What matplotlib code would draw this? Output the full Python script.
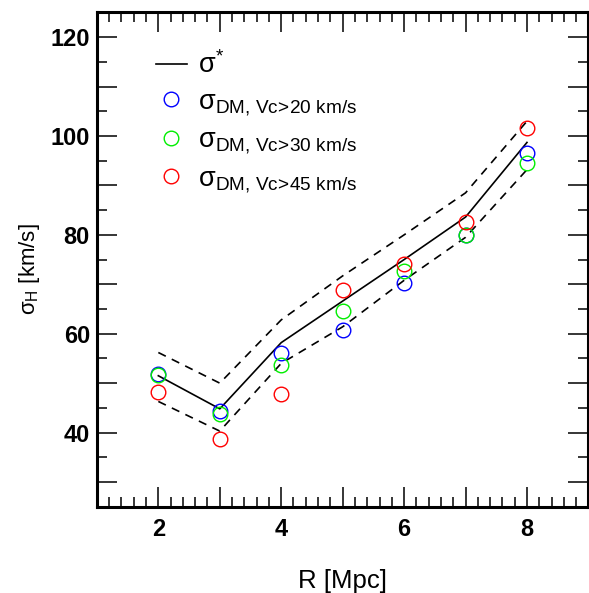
import numpy as np
import matplotlib
matplotlib.use("Agg")
import matplotlib.pyplot as plt
from matplotlib.ticker import MultipleLocator

plt.rcParams['font.family'] = ['Liberation Sans', 'DejaVu Sans']
plt.rcParams['mathtext.fontset'] = 'custom'
plt.rcParams['mathtext.rm'] = 'Liberation Sans'
plt.rcParams['mathtext.it'] = 'Liberation Sans'

# datos
R = [2, 3, 4, 5, 6, 7, 8]
sig_star = [51.5, 44.8, 58.2, 66.6, 75.0, 83.6, 98.7]
sig_up = [56.2, 50.0, 62.8, 71.7, 80.0, 88.5, 103.0]
sig_lo = [46.3, 40.3, 54.0, 61.4, 70.8, 79.5, 93.2]

dm20 = [51.9, 44.3, 56.0, 60.7, 70.2, 80.0, 96.5]
dm30 = [51.7, 43.8, 53.6, 64.6, 72.6, 79.9, 94.6]
dm45 = [48.2, 38.7, 47.9, 68.8, 74.1, 82.6, 101.7]

vc_cuts = [20, 30, 45]


def dm_label(v):
    return r'$\mathregular{\sigma_{DM{,}\ Vc\!>\!%d\ km/s}}$' % v


fig = plt.figure(figsize=(5.89, 5.93), dpi=100)
ax = fig.add_axes([0.1645, 0.1455, 0.8345, 0.8335])

ax.plot(R, sig_star, color='black', lw=1.2, label=r'$\mathregular{\sigma^{*}}$')
ax.plot(R, sig_up, color='black', lw=1.2, ls=(0, (5, 4)))
ax.plot(R, sig_lo, color='black', lw=1.2, ls=(0, (5, 4)))

mk = dict(ls='none', marker='o', ms=10.5, mfc='none', mew=1.0)
ax.plot(R, dm20, mec='blue', label=dm_label(vc_cuts[0]), **mk)
ax.plot(R, dm30, mec='#00ee00', label=dm_label(vc_cuts[1]), **mk)
ax.plot(R, dm45, mec='red', label=dm_label(vc_cuts[2]), **mk)

ax.set_xlim(1, 9)
ax.set_ylim(25, 125)
ax.xaxis.set_minor_locator(MultipleLocator(0.2))
ax.yaxis.set_minor_locator(MultipleLocator(5))
ax.set_xticks([1, 2, 3, 4, 5, 6, 7, 8, 9])
ax.set_xticklabels(['', '2', '', '4', '', '6', '', '8', ''])
ax.set_yticks(np.arange(30, 121, 10))
ax.set_yticklabels(['', '40', '', '60', '', '80', '', '100', '', '120'])

ax.tick_params(which='both', direction='in', top=True, right=True, width=1.1)
ax.tick_params(which='major', length=14.5, labelsize=17, pad=8)
ax.tick_params(which='minor', length=7)
ax.tick_params(axis='y', which='major', pad=5)
for lab in ax.get_xticklabels() + ax.get_yticklabels():
    lab.set_fontweight('bold')
for s in ax.spines.values():
    s.set_linewidth(2.2)

ax.set_xlabel('R [Mpc]', fontsize=18.5, labelpad=20)
ax.set_ylabel(r'$\mathregular{\sigma_H}$ [km/s]', fontsize=16)
ax.yaxis.set_label_coords(-0.111, 0.48)

ax.legend(loc='upper left', bbox_to_anchor=(0.07, 0.97), frameon=False,
          fontsize=19.5, handlelength=1.15, handletextpad=0.4, labelspacing=0.35)

fig.savefig('out.png', dpi=100)
